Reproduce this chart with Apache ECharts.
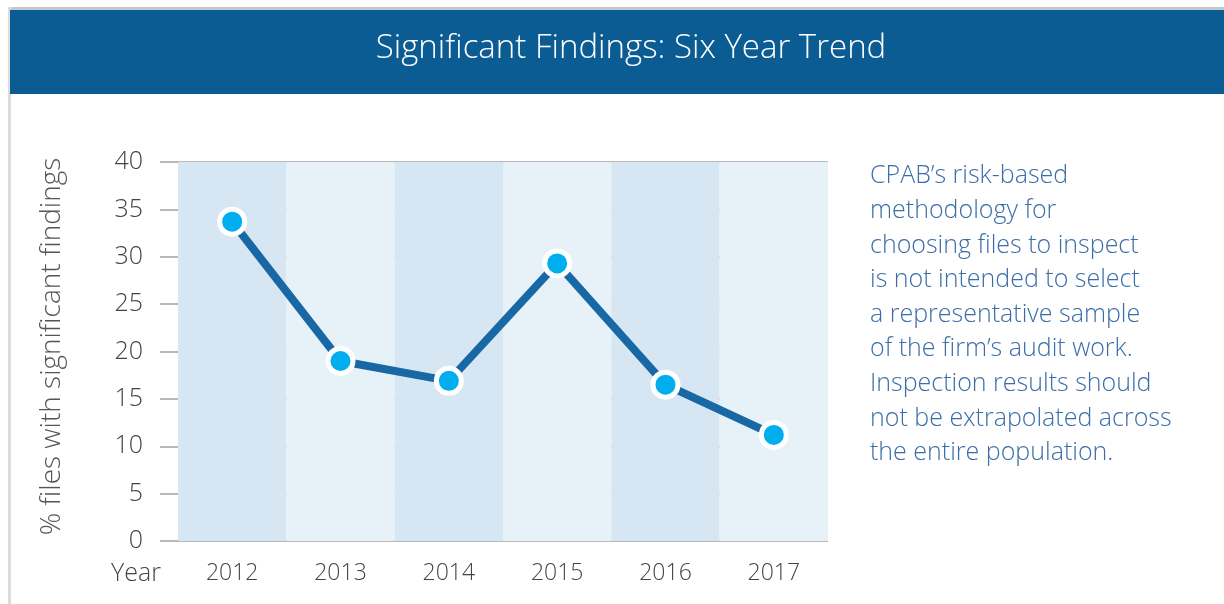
<!DOCTYPE html>
<html>
<head>
<meta charset="utf-8">
<style>
  html, body { margin: 0; padding: 0; background: #ffffff; }
  #chart { width: 1224px; height: 604px; }
</style>
<script src="https://cdn.jsdelivr.net/npm/echarts@6/dist/echarts.min.js"></script>
</head>
<body>
<div id="chart"></div>
<script>
// ---- data ----
var years = ['2012', '2013', '2014', '2015', '2016', '2017'];
var pctSignificant = [33.7, 19.0, 16.9, 29.3, 16.5, 11.2];
var yTicks = [0, 5, 10, 15, 20, 25, 30, 35, 40];
var titleText = 'Significant Findings: Six Year Trend';
var yAxisTitle = '% files with significant findings';
var xAxisTitle = 'Year';
var noteLines = [
  'CPAB\u2019s risk-based',
  'methodology for',
  'choosing files to inspect',
  'is not intended to select',
  'a representative sample',
  'of the firm\u2019s audit work.',
  'Inspection results should',
  'not be extrapolated across',
  'the entire population.'
];

var FONT = '"Open Sans", Lato, sans-serif';
var chart = echarts.init(document.getElementById('chart'), null, { renderer: 'canvas' });

var option = {
  animation: false,
  backgroundColor: '#ffffff',
  graphic: [
    // frame lines
    { type: 'rect', shape: { x: 8, y: 7, width: 1216, height: 3 }, style: { fill: '#c4c8cc' }, z: 1 },
    { type: 'rect', shape: { x: 8, y: 7, width: 3, height: 597 }, style: { fill: '#dcdcdc' }, z: 1 },
    // title bar
    { type: 'rect', shape: { x: 10, y: 10, width: 1214, height: 84 }, style: { fill: '#0c5c94' }, z: 2 },
    {
      type: 'text', z: 3,
      style: {
        text: titleText, x: 631, y: 49, textAlign: 'center', textVerticalAlign: 'middle',
        fill: '#ffffff', font: '300 33px ' + FONT
      }
    },
    {
      type: 'text', z: 3,
      style: {
        text: noteLines.join('\n'), x: 870, y: 159,
        fill: '#3b6ea8', font: '300 25px ' + FONT, lineHeight: 34.6,
        textAlign: 'left', textVerticalAlign: 'top'
      }
    },
    {
      type: 'text', z: 3,
      style: {
        text: xAxisTitle, x: 161, y: 574, textAlign: 'right', textVerticalAlign: 'middle',
        fill: '#444444', font: '300 25px ' + FONT
      }
    }
  ],
  grid: { left: 178, right: 396, top: 162, bottom: 63, containLabel: false },
  xAxis: {
    type: 'category',
    data: years,
    boundaryGap: true,
    axisLine: { show: false },
    axisTick: { show: false },
    axisLabel: { fontFamily: FONT, fontWeight: 300, fontSize: 23, color: '#444444', margin: 21 },
    splitLine: { show: false },
    splitArea: { show: true, areaStyle: { color: ['#d6e7f3', '#e6f1f8'] } }
  },
  yAxis: {
    type: 'value',
    min: 0, max: 40, interval: 5,
    name: yAxisTitle,
    nameLocation: 'middle',
    nameGap: 112,
    nameRotate: 90,
    nameTextStyle: { fontFamily: FONT, fontWeight: 300, fontSize: 28, color: '#555555', padding: [0, 0, 0, 10] },
    axisLine: { show: false },
    axisTick: { show: true, inside: false, length: 18, lineStyle: { color: '#b8b8b8', width: 2 } },
    axisLabel: {
      fontFamily: FONT, fontWeight: 300, fontSize: 25, color: '#444444', margin: 35,
      padding: [0, 0, 17, 0],
      formatter: function (v) { return yTicks.indexOf(v) >= 0 ? String(v) : ''; }
    },
    splitLine: { show: true, lineStyle: { color: '#b8b8b8', width: 2 } }
  },
  series: [{
    type: 'line',
    data: pctSignificant,
    z: 5,
    lineStyle: { color: '#1868a5', width: 8 },
    itemStyle: { color: '#00aeef', borderColor: '#ffffff', borderWidth: 5 },
    symbol: 'circle',
    symbolSize: 25,
    showSymbol: true
  }]
};
chart.setOption(option);
</script>
</body>
</html>
